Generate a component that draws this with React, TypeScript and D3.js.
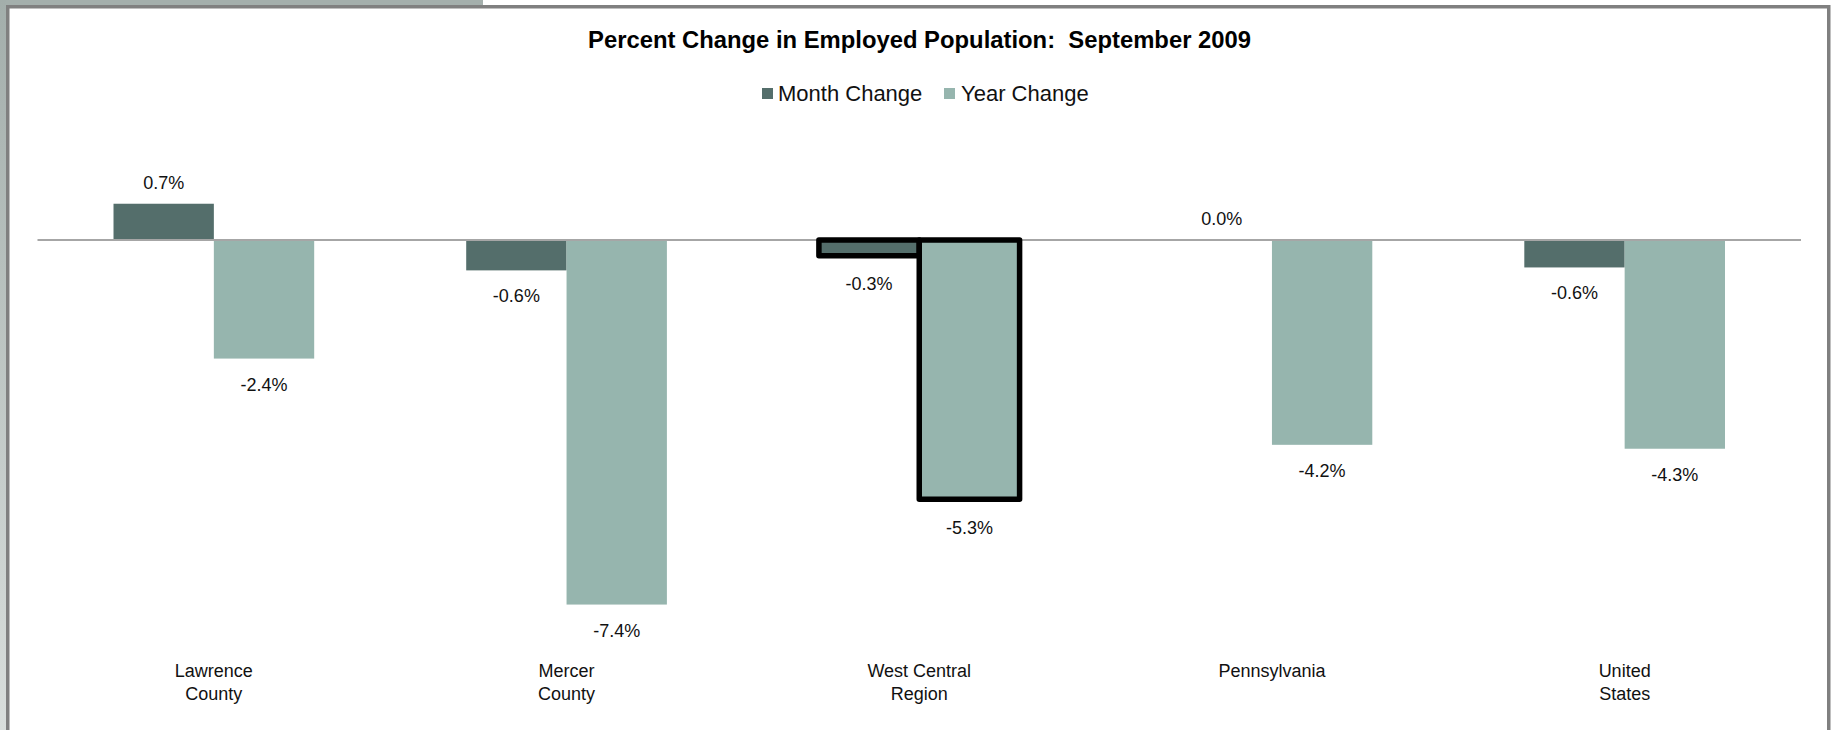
import React from "react";
import * as d3 from "d3";

const categories = ["Lawrence County", "Mercer County", "West Central Region", "Pennsylvania", "United States"];
const categoryLines = [["Lawrence", "County"], ["Mercer", "County"], ["West Central", "Region"], ["Pennsylvania"], ["United", "States"]];
const seriesNames = ["Month Change", "Year Change"];
const monthChange = [0.74, -0.62, -0.32, 0.0, -0.56];
const yearChange = [-2.42, -7.44, -5.29, -4.18, -4.26];
const highlightedCategory = "West Central Region";
const title = "Percent Change in Employed Population:  September 2009";

const W = 1837;
const H = 730;
const FONT = "'Liberation Sans', Arial, Helvetica, sans-serif";
const COLORS = ["#546e6b", "#96b5ae"];

export default function App() {
  const x0 = d3.scaleBand<string>().domain(categories).range([37.5, 1801]).paddingInner(0.431).paddingOuter(0.2155);
  const x1 = d3.scaleBand<string>().domain(seriesNames).range([0, x0.bandwidth()]).padding(0);
  const y = d3.scaleLinear().domain([-8, 2]).range([632, 142]);
  const series = [monthChange, yearChange];
  const fmt = (v: number) => v.toFixed(1) + "%";

  const bars: any[] = [];
  const hiBars: any[] = [];
  const labels: any[] = [];
  categories.forEach((c, i) => {
    const hi = c === highlightedCategory;
    seriesNames.forEach((s, j) => {
      const v = series[j][i];
      const bx = (x0(c) as number) + (x1(s) as number);
      const bw = x1.bandwidth();
      const y0 = y(0);
      const yv = y(v);
      const top = Math.min(y0, yv);
      const h = Math.abs(yv - y0);
      const rect = (
        <rect
          key={`b-${i}-${j}`}
          x={bx}
          y={top}
          width={bw}
          height={h}
          fill={COLORS[j]}
          stroke={hi ? "#000" : "none"}
          strokeWidth={hi ? 5.5 : 0}
          strokeLinejoin="round"
        />
      );
      if (h > 0) (hi ? hiBars : bars).push(rect);
      const extra = hi ? 2.5 : 0;
      const ly = v >= 0 ? yv - 15 - extra : yv + 32 + extra;
      labels.push(
        <text key={`l-${i}-${j}`} x={bx + bw / 2} y={ly} textAnchor="middle" fontSize={18} fill="#111">
          {fmt(v)}
        </text>
      );
    });
  });

  return (
    <svg width={W} height={H} style={{ position: "absolute", left: 0, top: 0, display: "block" }} fontFamily={FONT}>
      <defs>
        <linearGradient id="sideGrad" x1="0" y1="0" x2="0" y2="1">
          <stop offset="0" stopColor="#a3aeab" />
          <stop offset="1" stopColor="#d9dedc" />
        </linearGradient>
      </defs>
      <rect x={0} y={0} width={W} height={H} fill="#fff" />
      <rect x={0} y={0} width={483} height={6} fill="#a4afac" />
      <rect x={0} y={0} width={6} height={H} fill="url(#sideGrad)" />
      <rect x={7.75} y={6.75} width={1821} height={800} fill="#fff" stroke="#808080" strokeWidth={3.5} />

      <text x={919.5} y={48} textAnchor="middle" fontSize={23} fontWeight="bold" fill="#000" textLength={663} lengthAdjust="spacingAndGlyphs" style={{ whiteSpace: "pre" }}>
        {title}
      </text>

      <g>
        <rect x={762} y={88} width={11} height={11} fill={COLORS[0]} />
        <text x={778} y={101} fontSize={22} fill="#111">{seriesNames[0]}</text>
        <rect x={944} y={88} width={11} height={11} fill={COLORS[1]} />
        <text x={961} y={101} fontSize={22} fill="#111">{seriesNames[1]}</text>
      </g>

      <g>{bars}</g>
      <line x1={37.5} x2={1801} y1={y(0)} y2={y(0)} stroke="#a6a6a6" strokeWidth={2} />
      <g>{hiBars}</g>
      <g>{labels}</g>

      <g>
        {categories.map((c, i) => {
          const cx = (x0(c) as number) + x0.bandwidth() / 2;
          return (
            <text key={c} x={cx} y={677} textAnchor="middle" fontSize={18} fill="#111">
              {categoryLines[i].map((ln, k) => (
                <tspan key={k} x={cx} y={677 + k * 23}>{ln}</tspan>
              ))}
            </text>
          );
        })}
      </g>
    </svg>
  );
}
